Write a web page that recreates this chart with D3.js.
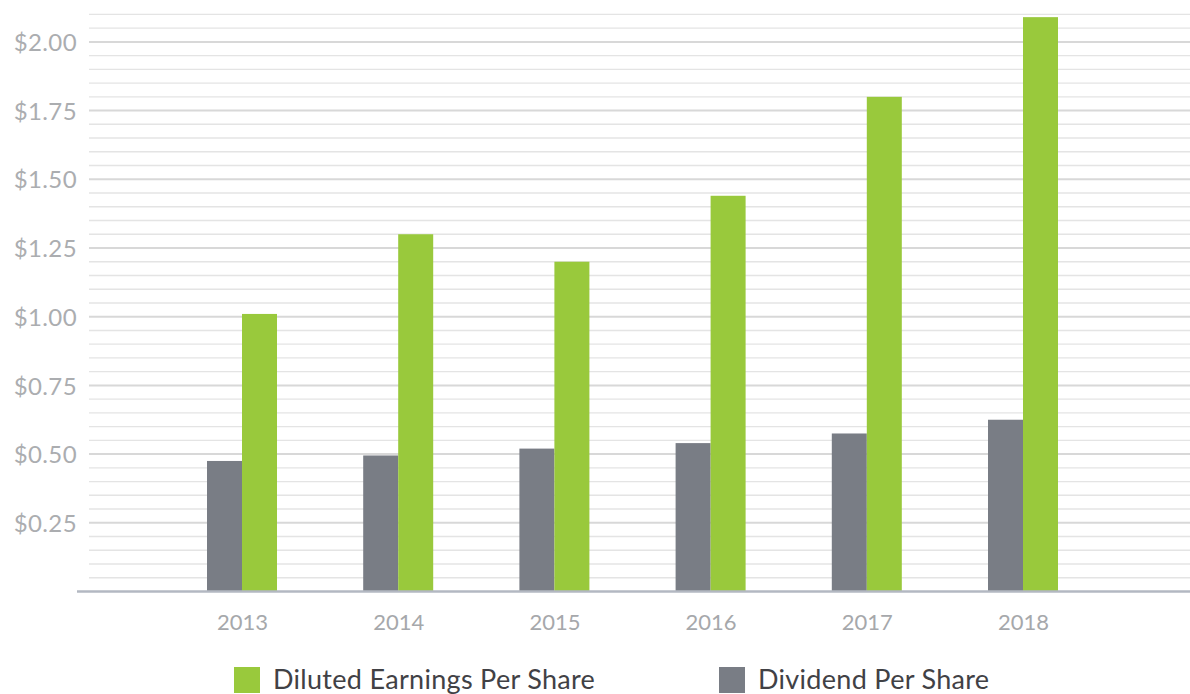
<!DOCTYPE html>
<html>
<head>
<meta charset="utf-8">
<script src="https://cdn.jsdelivr.net/npm/d3@7/dist/d3.min.js"></script>
<style>
  html, body { margin: 0; padding: 0; background: #ffffff; }
  svg { display: block; font-family: Lato, "Open Sans", sans-serif; }
</style>
</head>
<body>
<svg id="chart" width="1190" height="694"></svg>
<script>
// Per-share figures by fiscal year
const years = ["2013", "2014", "2015", "2016", "2017", "2018"];
const dilutedEPS = [1.01, 1.30, 1.20, 1.44, 1.80, 2.09];
const dividendPS = [0.475, 0.495, 0.52, 0.54, 0.575, 0.625];
const majorTicks = [0.25, 0.50, 0.75, 1.00, 1.25, 1.50, 1.75, 2.00];
const legendLabels = ["Diluted Earnings Per Share", "Dividend Per Share"];

const GREEN = "#99c93c";
const GREY = "#797d85";

const svg = d3.select("#chart");
const W = 1190;

const y = d3.scaleLinear().domain([0, 2.1]).range([591.5, 14.4]);
const x = d3.scalePoint().domain(years).range([242, 1023]);
const barW = 35;

// Grid: fine lines every $0.05, heavier ones at each labelled tick
const minor = d3.range(1, 43).map(i => +(i * 0.05).toFixed(2))
  .filter(v => !majorTicks.some(m => Math.abs(m - v) < 1e-6));

svg.append("g").selectAll("line").data(minor).join("line")
  .attr("x1", 89).attr("x2", W)
  .attr("y1", d => y(d)).attr("y2", d => y(d))
  .attr("stroke", "#e4e4e4").attr("stroke-width", 1.4);

svg.append("g").selectAll("line").data(majorTicks).join("line")
  .attr("x1", 89).attr("x2", W)
  .attr("y1", d => y(d)).attr("y2", d => y(d))
  .attr("stroke", "#d8d8d8").attr("stroke-width", 2);

// Y axis labels
const yAxis = d3.axisLeft(y).tickValues(majorTicks)
  .tickFormat(d => "$" + d3.format(".2f")(d)).tickSize(0).tickPadding(0);
const yg = svg.append("g").attr("transform", "translate(77,0)").call(yAxis);
yg.select(".domain").remove();
yg.selectAll("text")
  .attr("fill", "#abadb0").attr("font-size", 24).attr("font-weight", 400)
  .attr("letter-spacing", "0.4px").attr("font-family", "Lato, sans-serif")
  .attr("dy", "0.36em");

// Bars
const rows = years.map((yr, i) => ({ yr, eps: dilutedEPS[i], div: dividendPS[i] }));

svg.append("g").selectAll("rect").data(rows).join("rect")
  .attr("x", d => x(d.yr) - barW)
  .attr("width", barW)
  .attr("y", d => y(d.div))
  .attr("height", d => y(0) - y(d.div))
  .attr("fill", GREY);

svg.append("g").selectAll("rect").data(rows).join("rect")
  .attr("x", d => x(d.yr))
  .attr("width", barW)
  .attr("y", d => y(d.eps))
  .attr("height", d => y(0) - y(d.eps))
  .attr("fill", GREEN);

// Baseline
svg.append("line")
  .attr("x1", 77).attr("x2", W)
  .attr("y1", y(0)).attr("y2", y(0))
  .attr("stroke", "#b3b8c2").attr("stroke-width", 2.5);

// X axis labels
const xAxis = d3.axisBottom(x).tickSize(0).tickPadding(0);
const xg = svg.append("g").attr("transform", `translate(0,${y(0)})`).call(xAxis);
xg.select(".domain").remove();
xg.selectAll("text")
  .attr("fill", "#a6a8ab").attr("font-size", 22).attr("font-weight", 400)
  .attr("font-family", "Lato, sans-serif")
  .attr("dy", null).attr("y", 38);

// Legend
const legendItems = [
  { label: legendLabels[0], color: GREEN, x: 234 },
  { label: legendLabels[1], color: GREY, x: 719 }
];
const lg = svg.append("g").selectAll("g").data(legendItems).join("g")
  .attr("transform", d => `translate(${d.x},667)`);
lg.append("rect").attr("width", 26).attr("height", 26).attr("fill", d => d.color);
lg.append("text")
  .attr("x", 39).attr("y", 22)
  .attr("font-size", 27).attr("fill", "#414145").attr("font-family", "Lato, sans-serif")
  .attr("letter-spacing", "0.3px")
  .text(d => d.label);
</script>
</body>
</html>
